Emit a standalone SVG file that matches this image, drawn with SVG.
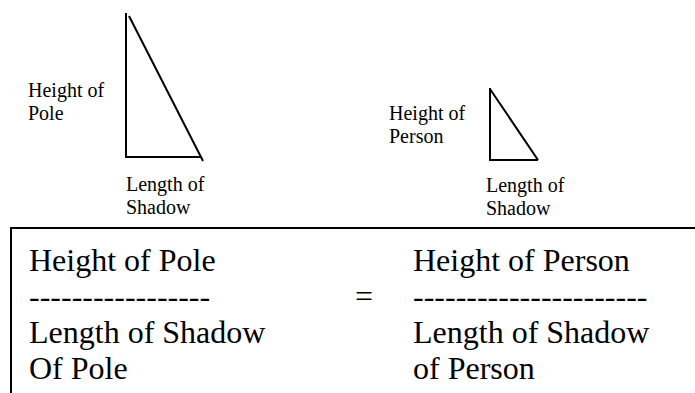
<svg xmlns="http://www.w3.org/2000/svg" width="695" height="393" viewBox="0 0 695 393">
<rect width="695" height="393" fill="#fff"/>
<g id="pole" fill="none" stroke="#000" stroke-width="2">
<path d="M126,13 V157 H201 M129,16 L203,161"/>
</g>
<g id="pole-labels" font-family="Liberation Serif" font-size="20" fill="#000">
<text x="28" y="97">Height of</text>
<text x="28" y="120">Pole</text>
<text x="126" y="191">Length of</text>
<text x="126" y="214">Shadow</text>
</g>
<g id="person" fill="none" stroke="#000" stroke-width="2">
<path d="M490,88 V160 H538 M490,89 L538,160"/>
</g>
<g id="person-labels" font-family="Liberation Serif" font-size="20" fill="#000">
<text x="389" y="120">Height of</text>
<text x="389" y="143">Person</text>
<text x="486" y="192">Length of</text>
<text x="486" y="215">Shadow</text>
</g>
<g id="box" fill="none" stroke="#000" stroke-width="2">
<path d="M695,228 H11 V393"/>
</g>
<g id="left-ratio" font-family="Liberation Serif" font-size="32" fill="#000">
<text x="29" y="271">Height of Pole</text>
<text x="29" y="307">-----------------</text>
<text x="29" y="343">Length of Shadow</text>
<text x="29" y="379">Of Pole</text>
</g>
<g id="equals" font-family="Liberation Serif" font-size="32" fill="#000">
<text x="355" y="307">=</text>
</g>
<g id="right-ratio" font-family="Liberation Serif" font-size="32" fill="#000">
<text x="413" y="271">Height of Person</text>
<text x="413" y="307">----------------------</text>
<text x="413" y="343">Length of Shadow</text>
<text x="413" y="379">of Person</text>
</g>
</svg>
